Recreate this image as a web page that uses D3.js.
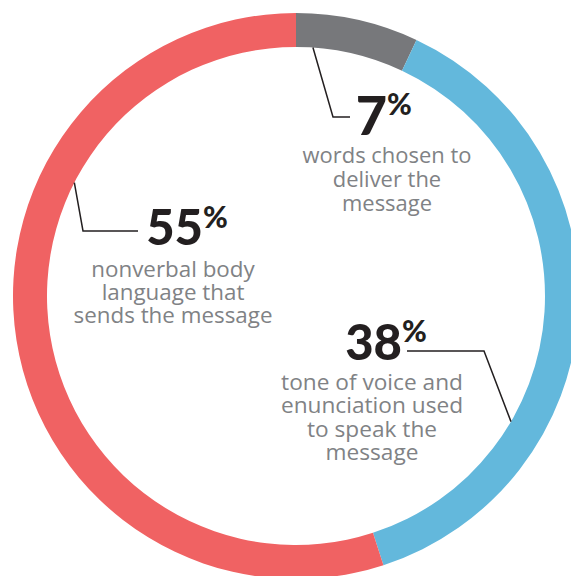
<!DOCTYPE html>
<html><head><meta charset="utf-8">
<script src="https://cdn.jsdelivr.net/npm/d3@7"></script>
<style>html,body{margin:0;padding:0;background:#fff;}svg{display:block;}</style>
</head><body>
<script>
// Data
const categories = ["words chosen to deliver the message", "tone of voice and enunciation used to speak the message", "nonverbal body language that sends the message"];
const values = [7, 38, 55];
const pctLabels = ["7", "38", "55"];
const descLines = [
  ["words chosen to", "deliver the", "message"],
  ["tone of voice and", "enunciation used", "to speak the", "message"],
  ["nonverbal body", "language that", "sends the message"]
];
const colors = ["#77787b", "#63b8dc", "#f06263"];

const W = 571, H = 576;
const cx = 296, cy = 296, rOuter = 283, rInner = 249;

const svg = d3.select("body").append("svg").attr("width", W).attr("height", H);
const g = svg.append("g").attr("transform", `translate(${cx},${cy})`);

const pie = d3.pie().sort(null).value(d => d)(values);
const arc = d3.arc().innerRadius(rInner).outerRadius(rOuter);
g.selectAll("path.seg").data(pie).join("path")
  .attr("class", "seg")
  .attr("d", arc)
  .attr("fill", (d, i) => colors[i]);

// layout for labels (positions only)
const layout = [
  { angle: 3.9, elbow: [333, 117], end: [350, 117], numX: 387, numBase: 135, numSize: 54, pctTop: 115, textX: 387, base: 162.5, lh: 24, target: 169 },
  { angle: 120.3, elbow: [484, 351], end: [407, 351], numX: 402, numBase: 360, numSize: 49, pctTop: 342, textX: 372, base: 390, lh: 23.3, target: 182 },
  { angle: 297.1, elbow: [83, 231], end: [138, 231], numX: 203, numBase: 245, numSize: 49, pctTop: 228, textX: 173, base: 277, lh: 23, target: 199 }
];

const ink = "#231f20", grey = "#808285";
const bodyFont = "'Open Sans', 'Noto Sans', sans-serif";
layout.forEach((L, i) => {
  const a = L.angle * Math.PI / 180;
  const sx = cx + rInner * Math.sin(a), sy = cy - rInner * Math.cos(a);
  svg.append("path")
    .attr("d", d3.line()([[sx, sy], L.elbow, L.end]))
    .attr("fill", "none").attr("stroke", ink).attr("stroke-width", 1.5);

  svg.append("text")
    .attr("x", L.numX).attr("y", L.numBase)
    .attr("text-anchor", "end")
    .attr("font-family", "Lato, 'Open Sans', sans-serif")
    .attr("font-weight", 900).attr("font-size", L.numSize)
    .attr("fill", ink)
    .text(pctLabels[i]);
  svg.append("text")
    .attr("x", L.numX).attr("y", L.pctTop)
    .attr("text-anchor", "start")
    .attr("font-family", "Lato, 'Open Sans', sans-serif")
    .attr("font-weight", 900).attr("font-size", 30)
    .attr("fill", ink)
    .text("%");

  // fit the font size to the widest line's width in the reference
  const probe = svg.append("text").attr("font-family", bodyFont).attr("font-size", 20)
    .text(d3.greatest(descLines[i], s => s.length));
  const w = probe.node().getComputedTextLength();
  probe.remove();
  const fs = Math.max(18, Math.min(24, 20 * L.target / w));

  const t = svg.append("text")
    .attr("text-anchor", "middle")
    .attr("font-family", bodyFont)
    .attr("font-size", fs)
    .attr("fill", grey);
  descLines[i].forEach((line, j) => {
    t.append("tspan").attr("x", L.textX).attr("y", L.base + j * L.lh).text(line);
  });
});
</script>
</body></html>
